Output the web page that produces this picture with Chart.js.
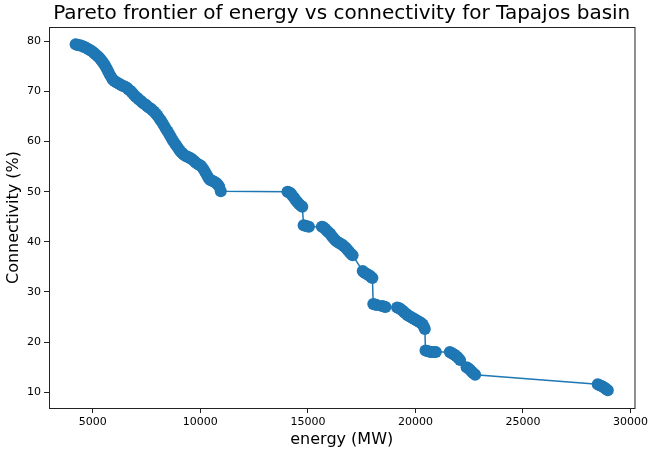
<!DOCTYPE html>
<html>
<head>
<meta charset="utf-8">
<title>Pareto frontier - Tapajos</title>
<script src="https://cdn.jsdelivr.net/npm/chart.js@4.4.1/dist/chart.umd.min.js"></script>
<style>
    html, body { margin: 0; padding: 0; background: #ffffff; }
    #wrap { width: 651px; height: 451px; position: relative; }
</style>
</head>
<body>
<div id="wrap"><canvas id="paretoChart" width="651" height="451"></canvas></div>
<script>
// datos (energia en MW, conectividad en %)
const energy = [
    4198, 4260, 4330, 4400, 4480, 4560, 4640, 4720, 4800, 4880,
    4960, 5040, 5120, 5200, 5280, 5360, 5430, 5500, 5570, 5640,
    5710, 5780, 5850, 5920, 6000, 6080, 6160, 6240, 6320, 6400,
    6480, 6560, 6640, 6720, 6800, 6880, 6960, 7040, 7120, 7200,
    7280, 7360, 7440, 7520, 7600, 7680, 7760, 7840, 7920, 8000,
    8080, 8160, 8240, 8320, 8400, 8480, 8560, 8640, 8720, 8800,
    8880, 8960, 9040, 9120, 9200, 9280, 9360, 9440, 9520, 9600,
    9680, 9760, 9840, 9920, 10000, 10080, 10160, 10240, 10320, 10400,
    10480, 10560, 10640, 10720, 10800, 10880, 10950,
    14050, 14120, 14200, 14280, 14360, 14440, 14520, 14600, 14680, 14740,
    14800, 14880, 14960, 15050,
    15650, 15720, 15800, 15880, 15960, 16040, 16120, 16200, 16280, 16360,
    16440, 16520, 16600, 16680, 16760, 16840, 16920, 17000, 17080,
    17550, 17620, 17700, 17780, 17860, 17940, 18000,
    18040, 18120, 18200, 18450, 18530, 18610,
    19150, 19230, 19310, 19390, 19470, 19550, 19630, 19710, 19790, 19870,
    19950, 20030, 20110, 20190, 20270, 20340, 20400, 20440,
    20470, 20550, 20630, 20710, 20790, 20870, 20950,
    21600, 21680, 21760, 21840, 21920, 22000, 22080,
    22380, 22460, 22540, 22620, 22700, 22780,
    28480, 28560, 28640, 28720, 28800, 28880, 28950
];
const connectivity = [
    79.4, 79.3, 79.2, 79.2, 79.1, 78.9, 78.8, 78.6, 78.4, 78.2,
    78.0, 77.7, 77.4, 77.1, 76.8, 76.4, 76.0, 75.6, 75.1, 74.6,
    74.0, 73.4, 72.9, 72.4, 72.1, 71.9, 71.7, 71.5, 71.3, 71.1,
    71.0, 70.8, 70.5, 70.2, 69.9, 69.5, 69.1, 68.8, 68.5, 68.2,
    67.9, 67.6, 67.4, 67.1, 66.8, 66.6, 66.3, 66.0, 65.6, 65.2,
    64.7, 64.2, 63.7, 63.1, 62.5, 62.0, 61.4, 60.8, 60.2, 59.7,
    59.2, 58.7, 58.2, 57.8, 57.5, 57.2, 57.0, 56.9, 56.7, 56.5,
    56.2, 55.9, 55.6, 55.4, 55.2, 54.9, 54.4, 53.8, 53.2, 52.6,
    52.3, 52.2, 52.0, 51.8, 51.5, 51.0, 50.1,
    50.0, 49.9, 49.7, 49.2, 48.8, 48.3, 47.9, 47.5, 47.2, 47.0,
    43.3, 43.2, 43.1, 43.0,
    43.0, 42.9, 42.6, 42.2, 41.9, 41.6, 41.1, 40.7, 40.3, 40.0,
    39.8, 39.6, 39.4, 39.1, 38.8, 38.4, 38.0, 37.6, 37.3,
    34.2, 33.9, 33.7, 33.5, 33.3, 33.0, 32.8,
    27.6, 27.5, 27.4, 27.2, 27.1, 27.0,
    26.9, 26.8, 26.6, 26.3, 26.0, 25.7, 25.4, 25.2, 25.0, 24.8,
    24.6, 24.4, 24.2, 24.0, 23.8, 23.5, 23.0, 22.6,
    18.3, 18.2, 18.1, 18.0, 18.0, 18.0, 18.0,
    18.0, 17.8, 17.6, 17.4, 17.1, 16.8, 16.4,
    15.0, 14.8, 14.5, 14.1, 13.8, 13.5,
    11.6, 11.4, 11.3, 11.1, 10.9, 10.6, 10.4
];

// ticks del grafico
const xTicks = [5000, 10000, 15000, 20000, 25000, 30000];
const yTicks = [10, 20, 30, 40, 50, 60, 70, 80];

const titleText = 'Pareto frontier of energy vs connectivity for Tapajos basin';
const blue = '#1f77b4';
const fontFamily = '"DejaVu Sans", sans-serif';

// caja alrededor del area del grafico + titulo centrado sobre el area (estilo matplotlib)
const frameBox = {
    id: 'frameBox',
    afterDraw(chart) {
        const a = chart.chartArea;
        const ctx = chart.ctx;
        ctx.save();
        ctx.strokeStyle = '#222';
        ctx.lineWidth = 1;
        ctx.strokeRect(a.left + 0.5, a.top + 0.5, a.right - a.left, a.bottom - a.top);

        ctx.fillStyle = '#000';
        ctx.font = '20px ' + fontFamily;
        ctx.textAlign = 'center';
        ctx.textBaseline = 'middle';
        ctx.fillText(titleText, (a.left + a.right) / 2, 14);
        ctx.restore();
    }
};

const points = energy.map((e, i) => ({ x: e, y: connectivity[i] }));

const ctx = document.getElementById('paretoChart').getContext('2d');
new Chart(ctx, {
    type: 'line',
    data: {
        datasets: [{
            label: 'pareto',
            data: points,
            borderColor: blue,
            borderWidth: 1.5,
            backgroundColor: blue,
            pointBackgroundColor: blue,
            pointBorderColor: blue,
            pointBorderWidth: 0,
            pointRadius: 6,
            tension: 0,
            fill: false,
            clip: false
        }]
    },
    options: {
        responsive: false,
        animation: false,
        layout: { padding: { left: 0, right: 15, top: 27, bottom: 0 } },
        plugins: {
            legend: { display: false },
            tooltip: { enabled: false },
            title: { display: false }
        },
        scales: {
            x: {
                type: 'linear',
                min: 2960,
                max: 30190,
                afterBuildTicks: (scale) => { scale.ticks = xTicks.map(v => ({ value: v })); },
                afterFit: (scale) => { scale.height = 43; },
                border: { display: false },
                grid: { drawOnChartArea: false, drawTicks: true, tickLength: 5, tickColor: '#222' },
                ticks: {
                    color: '#000',
                    font: { family: fontFamily, size: 11 },
                    padding: 3,
                    maxRotation: 0,
                    callback: (v) => String(v)
                },
                title: {
                    display: true,
                    text: 'energy (MW)',
                    color: '#000',
                    font: { family: fontFamily, size: 16 },
                    padding: { top: 0, bottom: 2 }
                }
            },
            y: {
                type: 'linear',
                min: 6.85,
                max: 82.85,
                afterBuildTicks: (scale) => { scale.ticks = yTicks.map(v => ({ value: v })); },
                afterFit: (scale) => { scale.width = 49; },
                border: { display: false },
                grid: { drawOnChartArea: false, drawTicks: true, tickLength: 5, tickColor: '#222' },
                ticks: {
                    color: '#000',
                    font: { family: fontFamily, size: 11 },
                    padding: 3,
                    callback: (v) => String(v)
                },
                title: {
                    display: true,
                    text: 'Connectivity (%)',
                    color: '#000',
                    font: { family: fontFamily, size: 16 },
                    padding: { top: 4, bottom: 0 }
                }
            }
        }
    },
    plugins: [frameBox]
});
</script>
</body>
</html>
